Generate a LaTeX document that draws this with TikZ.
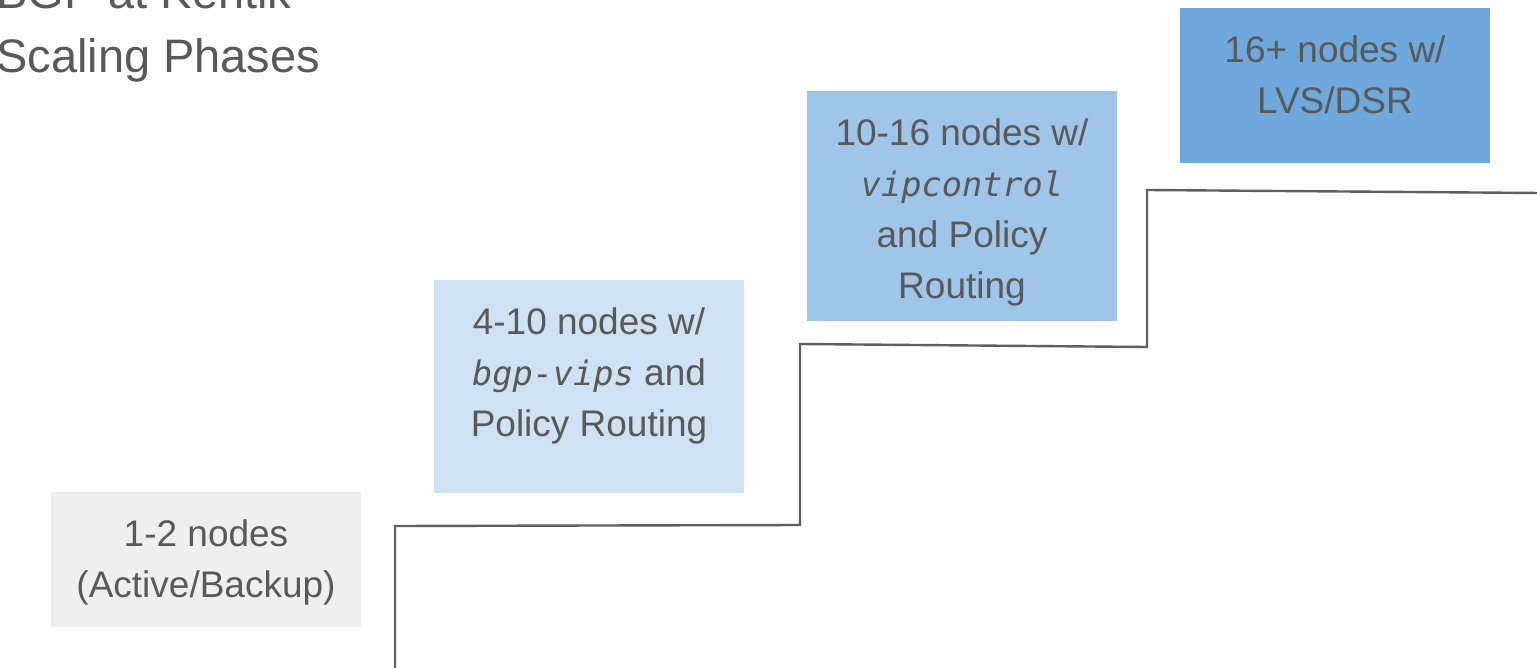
\documentclass[tikz,border=0pt]{standalone}
\usepackage{fontspec}
\setmainfont{Liberation Sans}
\newfontfamily\codefont{DejaVu Sans Mono}
\definecolor{txtgray}{HTML}{595959}
\definecolor{linegray}{HTML}{5F5F5F}
\definecolor{c1}{HTML}{EFEFEF}
\definecolor{c2}{HTML}{CFE2F3}
\definecolor{c3}{HTML}{9FC5E8}
\definecolor{c4}{HTML}{6FA8DC}
\newcommand{\code}[1]{{\codefont\itshape\fontsize{33.6}{51}\selectfont #1}}
\begin{document}
\begin{tikzpicture}[x=1pt,y=-1pt,
  phasebox/.style={inner sep=0pt, outer sep=0pt, minimum width=310pt, anchor=north west},
  phasetext/.style={inner sep=0pt, outer sep=0pt, anchor=north, align=center, text=txtgray,
    font=\fontsize{37}{51}\selectfont},
  stair/.style={draw=linegray, line width=2.4pt, line join=miter}]
\useasboundingbox (0,0) rectangle (1537,668);
\fill[white] (0,0) rectangle (1537,668);
\clip (0,0) rectangle (1537,668);

% title
\node[inner sep=0pt, anchor=north west, align=left, text=txtgray,
  font=\fontsize{47}{64}\selectfont] (title) at (-4,-36.3)
  {\strut BGP at Kentik\\ Scaling Phases};

% boxes
\node[phasebox, fill=c1, minimum height=135pt] (b1) at (51,492) {};
\node[phasebox, fill=c2, minimum height=213pt] (b2) at (434,280) {};
\node[phasebox, fill=c3, minimum height=230pt] (b3) at (807,91) {};
\node[phasebox, fill=c4, minimum height=155pt] (b4) at (1180,8) {};

\node[phasetext] (t1) at ([yshift=-19pt]b1.north) {\strut 1-2 nodes\\ (Active/Backup)};
\node[phasetext] (t2) at ([yshift=-19pt]b2.north) {\strut 4-10 nodes w/\\ \code{bgp-vips} and\\ Policy Routing};
\node[phasetext] (t3) at ([yshift=-19pt]b3.north) {\strut 10-16 nodes w/\\ \code{vipcontrol}\\ and Policy\\ Routing};
\node[phasetext] (t4) at ([yshift=-19pt]b4.north) {\strut 16+ nodes w/\\ LVS/DSR};

% staircase
\coordinate (s0) at (395,672);
\coordinate (s1) at (395,526);
\coordinate (s2) at (800,525);
\coordinate (s3) at (800,344);
\coordinate (s4) at (1147,347);
\coordinate (s5) at (1147,190);
\coordinate (s6) at (1541,193);
\draw[stair] (s0) -- (s1) -- (s2) -- (s3) -- (s4) -- (s5) -- (s6);
\end{tikzpicture}
\end{document}
